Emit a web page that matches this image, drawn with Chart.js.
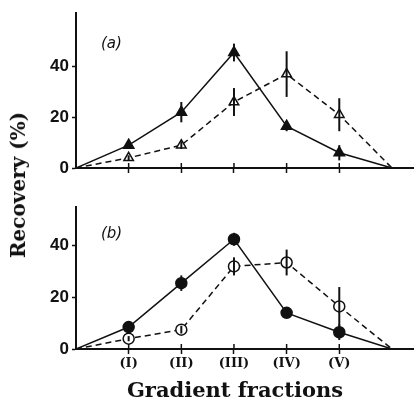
<!DOCTYPE html>
<html>
<head>
<meta charset="utf-8">
<script src="https://cdn.jsdelivr.net/npm/chart.js@4"></script>
<style>
  body { margin: 0; background: #fff; }
  #wrap { position: relative; width: 415px; height: 404px; overflow: hidden; }
  canvas { position: absolute; left: 0; }
  .lbl { position: absolute; color: #111; white-space: nowrap; }
  #ytitle { font: bold 20px "DejaVu Serif", serif; left: 18px; top: 185px; transform: translate(-50%, -50%) rotate(-90deg); }
  #xtitle { font: bold 21px "DejaVu Serif", serif; left: 235px; top: 389px; transform: translate(-50%, -50%); }
  .panel { font: italic 15px "DejaVu Sans", sans-serif; }
</style>
</head>
<body>
<div id="wrap">
  <canvas id="chartA" width="415" height="185" style="top:0"></canvas>
  <canvas id="chartB" width="415" height="214" style="top:190px"></canvas>
  <div class="lbl" id="ytitle">Recovery (%)</div>
  <div class="lbl" id="xtitle">Gradient fractions</div>
  <div class="lbl panel" style="left:101px;top:34px">(a)</div>
  <div class="lbl panel" style="left:101px;top:224px">(b)</div>
</div>
<script>
const categories = ['', '(I)', '(II)', '(III)', '(IV)', '(V)', ''];
const xValues = [0, 1, 2, 3, 4, 5, 6];
const yTicks = [0, 20, 40];

// panel (a): filled / open triangles
const aFilled = [0, 9, 22, 45.5, 16.5, 6, 0];
const aFilledErr = [0, 1.5, 4, 3.5, 2, 3, 0];
const aOpen = [0, 4, 9, 26, 37, 21, 0];
const aOpenErr = [0, 1, 1.5, 5.5, 9, 6.5, 0];

// panel (b): filled / open circles
const bFilled = [0, 8.5, 25.5, 42.5, 14, 6.5, 0];
const bFilledErr = [0, 2, 3, 2.5, 1.5, 3, 0];
const bOpen = [0, 4, 7.5, 32, 33.5, 16.5, 0];
const bOpenErr = [0, 1, 1.5, 3.5, 5, 7.5, 0];

const ink = '#111';

function series(values, errs, filled, dashed, style, r) {
  return {
    data: values.map((v, i) => ({ x: xValues[i], y: v })),
    errors: errs,
    borderColor: ink,
    borderWidth: 1.5,
    borderDash: dashed ? [6, 4] : [],
    pointStyle: style,
    pointRadius: xValues.map((x, i) => (i === 0 || i === xValues.length - 1) ? 0 : r),
    pointBackgroundColor: filled ? ink : '#fff',
    pointBorderColor: ink,
    pointBorderWidth: 1.5,
    fill: false,
    tension: 0
  };
}

const errorBars = {
  id: 'errorBars',
  afterDatasetsDraw(chart) {
    const { ctx, scales: { x, y } } = chart;
    ctx.save();
    ctx.strokeStyle = ink;
    ctx.lineWidth = 2;
    chart.data.datasets.forEach(ds => {
      ds.data.forEach((p, i) => {
        const e = ds.errors[i];
        if (!e) return;
        const px = x.getPixelForValue(p.x);
        ctx.beginPath();
        ctx.moveTo(px, y.getPixelForValue(p.y - e));
        ctx.lineTo(px, y.getPixelForValue(p.y + e));
        ctx.stroke();
      });
    });
    // small tick stubs above the x axis
    const bottom = chart.chartArea.bottom;
    ctx.lineWidth = 1.5;
    for (let i = 1; i <= 5; i++) {
      const px = x.getPixelForValue(i);
      ctx.beginPath();
      ctx.moveTo(px, bottom - 5);
      ctx.lineTo(px, bottom);
      ctx.stroke();
    }
    ctx.restore();
  }
};

function makeChart(id, datasets, yMax, showLabels, xHeight, padTop) {
  return new Chart(document.getElementById(id), {
    type: 'line',
    data: { datasets },
    options: {
      responsive: false,
      animation: false,
      layout: { padding: { top: padTop, right: 2, left: 0, bottom: 0 } },
      plugins: { legend: { display: false }, tooltip: { enabled: false } },
      scales: {
        x: {
          type: 'linear', min: 0, max: 6.4,
          afterBuildTicks: s => { s.ticks = [1, 2, 3, 4, 5].map(v => ({ value: v })); },
          afterFit: s => { s.height = xHeight; },
          grid: { drawOnChartArea: false, tickLength: 5, tickWidth: 1.5, tickColor: ink },
          border: { color: ink, width: 2 },
          ticks: {
            display: showLabels, padding: 2, color: ink, maxRotation: 0, autoSkip: false,
            font: { family: 'DejaVu Serif', size: 13, weight: 'bold' },
            callback: v => categories[v]
          }
        },
        y: {
          min: 0, max: yMax,
          afterBuildTicks: s => { s.ticks = yTicks.map(v => ({ value: v })); },
          afterFit: s => { s.width = 76; },
          grid: { drawOnChartArea: false, tickLength: 4, tickWidth: 1.5, tickColor: ink },
          border: { color: ink, width: 2 },
          ticks: { padding: 3, color: ink, font: { family: 'Liberation Sans', size: 17, weight: 'bold' } }
        }
      }
    },
    plugins: [errorBars]
  });
}

makeChart('chartA', [
  series(aFilled, aFilledErr, true, false, 'triangle', 6),
  series(aOpen, aOpenErr, false, true, 'triangle', 5.5)
], 61, false, 17, 10);

makeChart('chartB', [
  series(bFilled, bFilledErr, true, false, 'circle', 5.5),
  series(bOpen, bOpenErr, false, true, 'circle', 5.5)
], 55, true, 55, 17);
</script>
</body>
</html>
